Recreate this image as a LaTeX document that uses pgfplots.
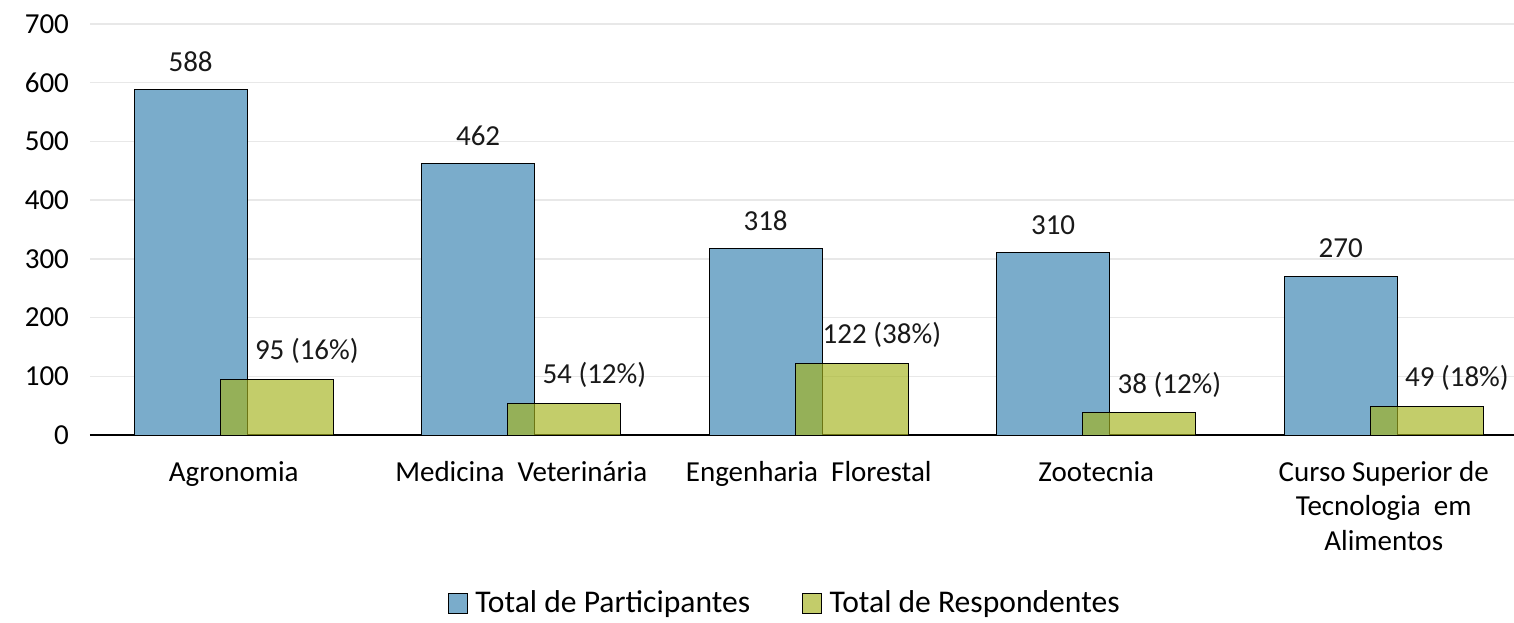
\documentclass[border=0pt]{standalone}
\usepackage{fontspec}
\setmainfont{Carlito}
\usepackage{pgfplots}
\pgfplotsset{compat=1.18}
\definecolor{partblue}{HTML}{7AACCB}
\definecolor{respgreen}{HTML}{A4B31D}
\definecolor{gridgray}{HTML}{E8E8E8}

\begin{document}
\begin{tikzpicture}
\begin{axis}[
  scale only axis, width=718.75pt, height=205.5pt,
  at={(0,0)}, anchor=south west,
  xmin=-0.5, xmax=4.5, ymin=0, ymax=700,
  ytick={0,100,...,700},
  xtick={0,1,2,3,4},
  xticklabels={Agronomia, Medicina\ \ Veterinária, Engenharia\ \ Florestal, Zootecnia,
    {Curso Superior\ de\\Tecnologia\ \ em\\Alimentos}},
  xticklabel style={align=center, yshift=-9.5pt, font=\fontsize{14.5}{17.3}\selectfont},
  yticklabel style={xshift=-7pt, font=\fontsize{14.5}{17}\selectfont},
  /pgf/number format/assume math mode=true,
  major tick length=0pt,
  ymajorgrids, grid style={gridgray, line width=0.7pt},
  axis x line*=bottom, axis y line*=left,
  x axis line style={black, line width=1.2pt},
  y axis line style={draw=none},
  ybar, bar width=0.393,
  point meta=explicit symbolic,
  nodes near coords,
  every node near coord/.append style={anchor=center, yshift=14pt, font=\fontsize{14.5}{17}\selectfont, text=black!90},
  legend columns=2,
  legend style={at={(0.484,-0.41)}, anchor=center, draw=none, font=\fontsize{15.8}{18}\selectfont,
    /tikz/every even column/.append style={column sep=24pt}},
  legend image code/.code={%
    \draw[#1, draw=black, line width=0.5pt] (0pt,-4.8pt) rectangle (9.6pt,4.8pt);
    \path[draw=none, fill=none] (11.5pt,0pt) circle (0pt);},
]
\addplot[bar shift=0pt, fill=partblue, draw=black, line width=0.5pt]
coordinates {
  (-0.15,588) [588]
  (0.85,462) [462]
  (1.85,318) [318]
  (2.85,310) [310]
  (3.85,270) [270]
};
\addlegendentry{Total de Participantes}
\addplot[bar shift=0pt, fill=respgreen, fill opacity=0.66, draw=black, line width=0.5pt,
  every node near coord/.append style={xshift=15pt, text opacity=1}]
coordinates {
  (0.15,95) [95 (16\%)]
  (1.15,54) [54 (12\%)]
  (2.15,122) [122 (38\%)]
  (3.15,38) [38 (12\%)]
  (4.15,49) [49 (18\%)]
};
\addlegendentry{Total de Respondentes}
\end{axis}
\pgfresetboundingbox
\path (-45pt,-93.5pt) rectangle (712pt,217.5pt);
\end{tikzpicture}
\end{document}
